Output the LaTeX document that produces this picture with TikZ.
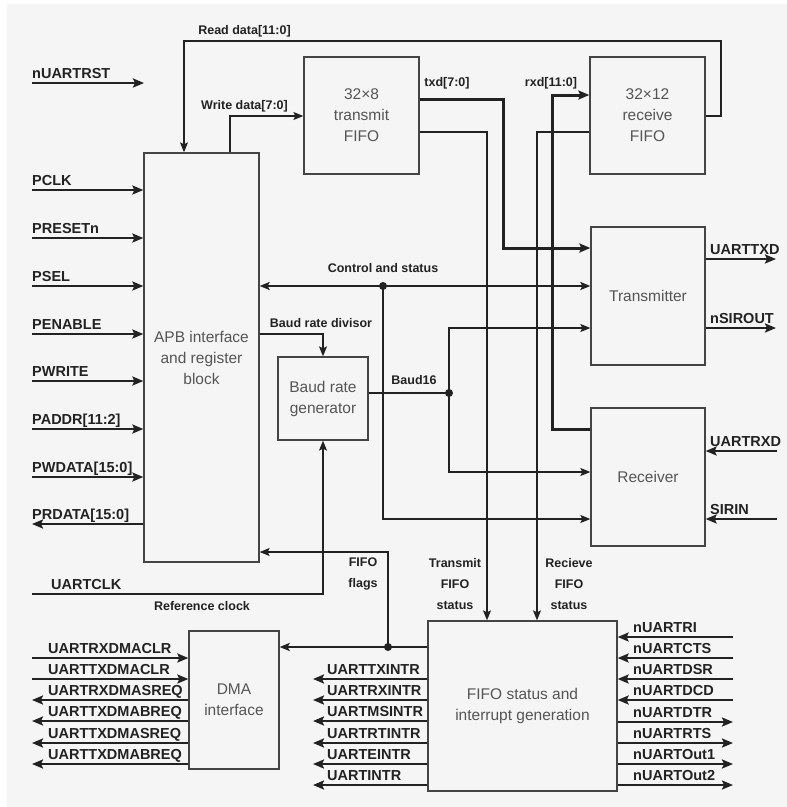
\documentclass[tikz,border=0pt]{standalone}
\usepackage{fontspec}
\setmainfont{Liberation Sans}
\usetikzlibrary{arrows.meta}
\definecolor{bgc}{HTML}{F5F5F5}
\definecolor{ln}{HTML}{222222}
\definecolor{bx}{HTML}{444444}
\definecolor{tx}{HTML}{555555}
\begin{document}
\begin{tikzpicture}[x=1pt,y=-1pt,
  blk/.style={draw=bx,line width=1.3pt,fill=bgc,text=tx,font=\fontsize{15.5}{21}\selectfont,align=center,inner sep=0pt},
  sig/.style={draw=ln,line width=2.2pt,-{Stealth[length=11pt,width=9pt,inset=2pt]}},
  sigl/.style={draw=ln,line width=2.2pt,{Stealth[length=11pt,width=9pt,inset=2pt]}-},
  conn/.style={draw=ln,line width=1.2pt},
  cona/.style={conn,-{Stealth[length=10pt,width=8pt,inset=2pt]}},
  midl/.style={draw=ln,line width=1.8pt},
  fat/.style={draw=ln,line width=3pt,-{Stealth[length=11pt,width=9pt,inset=2pt]}},
  lab/.style={font=\bfseries\fontsize{14.5}{17}\selectfont,text=ln,inner sep=0pt,anchor=base west},
  slab/.style={font=\bfseries\fontsize{12.5}{21}\selectfont,text=ln,inner sep=0pt,align=center},
  dot/.style={circle,fill=ln,inner sep=0pt,minimum size=8pt}
]
\useasboundingbox (0,0) rectangle (787,807);
\fill[white] (0,0) rectangle (787,807);
\fill[bgc] (7,4) rectangle (787,807);

% blocks
\node[blk,minimum width=115pt,minimum height=409pt] (apb) at (201.5,357.5) {APB interface\\and register\\block};
\node[blk,minimum width=115pt,minimum height=117pt] (tf) at (361.5,115.5) {32×8\\transmit\\FIFO};
\node[blk,minimum width=115pt,minimum height=117pt] (rf) at (647.5,115.5) {32×12\\receive\\FIFO};
\node[blk,minimum width=114pt,minimum height=138pt] (txm) at (648,296) {Transmitter};
\node[blk,minimum width=114pt,minimum height=138pt] (rxm) at (648,477) {Receiver};
\node[blk,minimum width=90pt,minimum height=83pt] (bgen) at (323,398.5) {Baud rate\\generator};
\node[blk,minimum width=90pt,minimum height=138pt] (dma) at (234,700) {DMA\\interface};
\node[blk,minimum width=189pt,minimum height=170pt] (fs) at (522.5,706) {FIFO status and\\interrupt generation};

% nUARTRST
\coordinate (rst) at (32,83);
\coordinate (rstend) at (144,83);
\draw[sig] (rst) -- (rstend);
\node[lab] (lrst) at (32,78) {nUARTRST};

% APB inputs
\foreach \y/\t [count=\i] in {190/PCLK,238/PRESETn,286/PSEL,334/PENABLE,381/PWRITE,429/PADDR[11:2],477/PWDATA[15:0]}{
  \coordinate (in\i) at (32,\y);
  \draw[sig] (in\i) -- (apb.west |- in\i);
  \node[lab] (lin\i) at (32,\y-5) {\t};
}
\coordinate (prd) at (32,524);
\draw[sig] (apb.west |- prd) -- (prd);
\node[lab] (lprd) at (32,519) {PRDATA[15:0]};

% Read / write data
\draw[cona] (rf.east |- 0,116) -| (721,41) -| (apb.north -| 184,0);
\node[slab] (lrd) at (244.5,31) {Read data[11:0]};
\draw[cona] (apb.north -| 230,0) |- (tf.west |- 0,116);
\node[slab] (lwd) at (244.5,106) {Write data[7:0]};

% txd / rxd
\draw[fat] (tf.east |- 0,99) -| (503,248) -- (txm.west |- 0,248);
\node[slab] (ltxd) at (447,83) {txd[7:0]};
\draw[fat] (rxm.west |- 0,429) -| (552,95) -- (rf.west |- 0,95);
\node[slab] (lrxd) at (551,83) {rxd[11:0]};

% FIFO status lines
\draw[cona] (tf.east |- 0,132) -| (fs.north -| 487,0);
\draw[cona] (rf.west |- 0,132) -| (fs.north -| 537,0);
\node[slab] (lts) at (455,584) {Transmit\\FIFO\\status};
\node[slab] (lrs) at (569,584) {Recieve\\FIFO\\status};

% control and status
\node[dot] (cdot) at (383,286) {};
\draw[midl,{Stealth[length=10pt,width=8pt,inset=2pt]}-{Stealth[length=10pt,width=8pt,inset=2pt]}] (apb.east |- cdot) -- (txm.west |- cdot);
\draw[cona] (cdot.center) |- (rxm.west |- 0,519);
\node[slab] (lcs) at (383,268) {Control and status};

% baud rate divisor
\draw[cona] (apb.east |- 0,334) -| (bgen.north);
\node[slab] (lbrd) at (321,323) {Baud rate divisor};

% baud16
\node[dot] (bdot) at (449,393) {};
\draw[midl] (bgen.east |- bdot) -- (bdot.center);
\draw[cona] (bdot.center) |- (txm.west |- 0,328);
\draw[cona] (bdot.center) |- (rxm.west |- 0,472);
\node[slab] (lb16) at (414,380) {Baud16};

% transmitter outputs
\coordinate (otx) at (776,259);
\draw[sig] (txm.east |- otx) -- (otx);
\node[lab] (lotx) at (710,254) {UARTTXD};
\coordinate (osir) at (776,328);
\draw[sig] (txm.east |- osir) -- (osir);
\node[lab] (losir) at (710,323) {nSIROUT};

% receiver inputs
\coordinate (irx) at (777,451);
\draw[sig] (irx) -- (rxm.east |- irx);
\node[lab] (lirx) at (710,446) {UARTRXD};
\coordinate (isir) at (777,519);
\draw[sig] (isir) -- (rxm.east |- isir);
\node[lab] (lisir) at (710,514) {SIRIN};

% UARTCLK
\coordinate (uclk) at (32,594);
\draw[cona] (uclk) -| (bgen.south);
\node[lab] (luclk) at (51,589) {UARTCLK};
\node[slab] (lref) at (202,606) {Reference clock};

% FIFO flags
\node[dot] (fdot) at (388,647) {};
\draw[midl,-{Stealth[length=10pt,width=8pt,inset=2pt]}] (fs.west |- fdot) -- (dma.east |- fdot);
\draw[cona] (fdot.center) |- (apb.east |- 0,552);
\node[slab] (lff) at (363,573.5) {FIFO\\flags};

% DMA signals
\foreach \y/\t [count=\i] in {658/UARTRXDMACLR,679/UARTTXDMACLR}{
  \coordinate (d\i) at (32,\y);
  \draw[sig] (d\i) -- (dma.west |- d\i);
  \node[lab] (ld\i) at (48,\y-5) {\t};
}
\foreach \y/\t [count=\i] in {700/UARTRXDMASREQ,721/UARTTXDMABREQ,743/UARTTXDMASREQ,764/UARTTXDMABREQ}{
  \coordinate (e\i) at (32,\y);
  \draw[sig] (dma.west |- e\i) -- (e\i);
  \node[lab] (le\i) at (48,\y-5) {\t};
}

% FIFO interrupt outputs (left)
\foreach \y/\t [count=\i] in {679/UARTTXINTR,700/UARTRXINTR,721/UARTMSINTR,743/UARTRTINTR,764/UARTEINTR,785/UARTINTR}{
  \coordinate (q\i) at (313,\y);
  \draw[sig] (fs.west |- q\i) -- (q\i);
  \node[lab] (lq\i) at (327,\y-5) {\t};
}

% FIFO right inputs
\foreach \y/\t [count=\i] in {637/nUARTRI,658/nUARTCTS,679/nUARTDSR,700/nUARTDCD}{
  \coordinate (r\i) at (733,\y);
  \draw[sig] (r\i) -- (fs.east |- r\i);
  \node[lab] (lr\i) at (633,\y-5) {\t};
}
\foreach \y/\t [count=\i] in {722/nUARTDTR,743/nUARTRTS,764/nUARTOut1,785/nUARTOut2}{
  \coordinate (s\i) at (733,\y);
  \draw[sig] (fs.east |- s\i) -- (s\i);
  \node[lab] (ls\i) at (633,\y-5) {\t};
}
\end{tikzpicture}
\end{document}
